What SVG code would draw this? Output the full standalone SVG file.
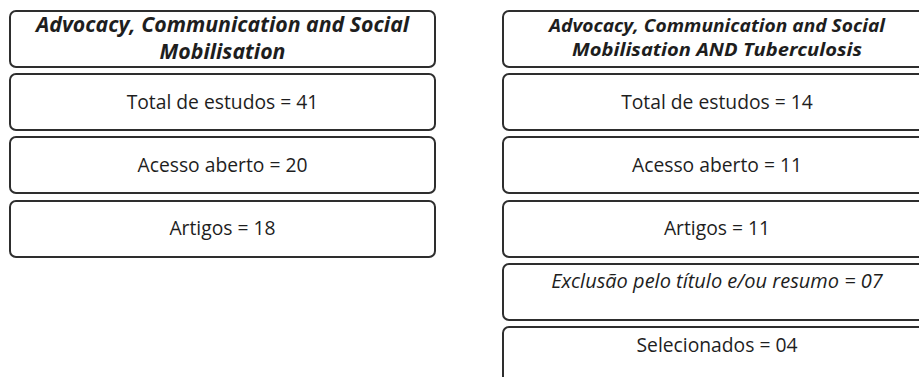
<svg xmlns="http://www.w3.org/2000/svg" width="919" height="377" viewBox="0 0 919 377">
  <style>
    .box { fill: #ffffff; stroke: #2e2e2e; stroke-width: 2; }
    .t { font-family: "Open Sans", "Liberation Sans", sans-serif; font-size: 19.3px; fill: #1e1e1e; text-anchor: middle; }
    .title { font-weight: bold; font-style: italic; }
    .it { font-style: italic; }
  </style>
  <rect width="919" height="377" fill="#ffffff"/>

  <!-- left column: search without TB filter -->
  <g id="left-query">
    <rect class="box" x="10" y="11" width="425" height="56" rx="6"/>
    <text class="t title" x="222.5" y="32" style="font-size:21.3px">Advocacy, Communication and Social</text>
    <text class="t title" x="222.5" y="59" style="font-size:21.3px">Mobilisation</text>
  </g>
  <g id="left-total">
    <rect class="box" x="10" y="74" width="425" height="56" rx="6"/>
    <text class="t" x="222.5" y="109">Total de estudos = 41</text>
  </g>
  <g id="left-open">
    <rect class="box" x="10" y="137" width="425" height="56" rx="6"/>
    <text class="t" x="222.5" y="172">Acesso aberto = 20</text>
  </g>
  <g id="left-articles">
    <rect class="box" x="10" y="201" width="425" height="56" rx="6"/>
    <text class="t" x="222.5" y="235">Artigos = 18</text>
  </g>

  <!-- right column: search combined with Tuberculosis -->
  <g id="right-query">
    <rect class="box" x="503" y="11" width="428" height="56" rx="6"/>
    <text class="t title" x="717" y="31.5" style="font-size:17.6px" textLength="336" lengthAdjust="spacingAndGlyphs">Advocacy, Communication and Social</text>
    <text class="t title" x="717" y="55.5" style="font-size:17.6px" textLength="290" lengthAdjust="spacingAndGlyphs">Mobilisation AND Tuberculosis</text>
  </g>
  <g id="right-total">
    <rect class="box" x="503" y="74" width="428" height="56" rx="6"/>
    <text class="t" x="717" y="109">Total de estudos = 14</text>
  </g>
  <g id="right-open">
    <rect class="box" x="503" y="137" width="428" height="56" rx="6"/>
    <text class="t" x="717" y="172">Acesso aberto = 11</text>
  </g>
  <g id="right-articles">
    <rect class="box" x="503" y="201" width="428" height="56" rx="6"/>
    <text class="t" x="717" y="235">Artigos = 11</text>
  </g>
  <g id="right-excluded">
    <rect class="box" x="503" y="264" width="428" height="56" rx="6"/>
    <text class="t it" x="717" y="288" style="font-size:20px">Exclusão pelo título e/ou resumo = 07</text>
  </g>
  <g id="right-selected">
    <rect class="box" x="503" y="327" width="428" height="70" rx="6"/>
    <text class="t" x="717" y="352">Selecionados = 04</text>
  </g>

  <g id="connectors"></g>
</svg>
